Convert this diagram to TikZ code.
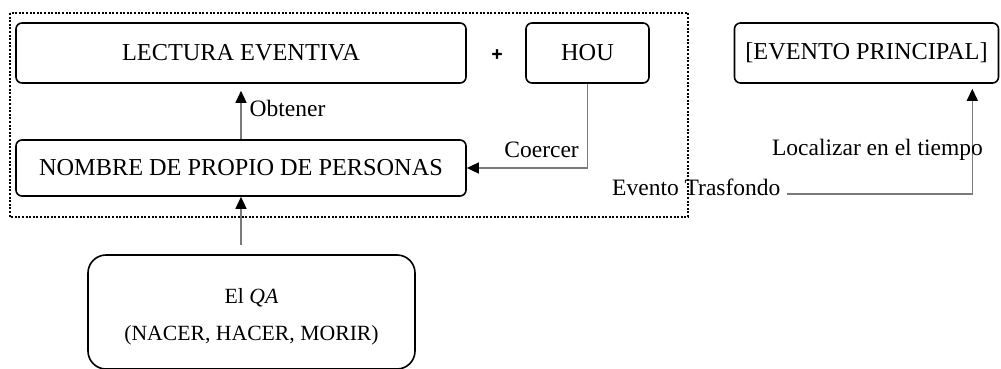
\documentclass[tikz,border=0pt]{standalone}
\usepackage{fontspec}
\setmainfont{Liberation Serif}
\newfontfamily\plusfont[FakeBold=2]{DejaVu Sans}
\usetikzlibrary{arrows.meta,calc}
\definecolor{conncol}{HTML}{7A7A7A}
\tikzset{
  box/.style={draw=black, line width=1.6pt, rounded corners=6pt, inner sep=0pt,
    font=\fontsize{24.3pt}{28pt}\selectfont},
  lbl/.style={inner sep=0pt, font=\fontsize{23.5pt}{28pt}\selectfont},
  conn/.style={draw=conncol, line width=1.3pt,
    -{Triangle[length=12pt,width=11pt,color=black]}},
  frame/.style={draw=black, line width=2.4pt, dash pattern=on 2pt off 1.6pt}
}
\begin{document}
\begin{tikzpicture}[x=1pt,y=-1pt]
\useasboundingbox (0,0) rectangle (1001,369);
% dotted frame
\draw[frame] (10,13) rectangle (688,217);
% boxes
\node[box, minimum width=450pt, minimum height=60pt] (lect) at (241,53) {LECTURA EVENTIVA};
\node[box, minimum width=123pt, minimum height=60pt] (hou) at (587.5,53) {HOU};
\node[box, minimum width=264pt, minimum height=60pt] (evp) at (866.5,53) {[EVENTO PRINCIPAL]};
\node[box, minimum width=450pt, minimum height=56pt] (nom) at (241,168) {NOMBRE DE PROPIO DE PERSONAS};
\node[box, rounded corners=18pt, minimum width=327pt, minimum height=114pt,
  label={[name=qatext, align=center, inner sep=0pt, yshift=-5pt,
    font=\fontsize{21.7pt}{37pt}\selectfont]center:{El \textit{QA}\\(NACER, HACER, MORIR)}}]
  (qa) at (251.5,312) {};
% plus sign
\node[inner sep=0pt, font=\fontsize{15pt}{15pt}\plusfont\bfseries] (plus) at (497,54) {+};
% connectors
\draw[conn, shorten <=9pt] (qa.north -| nom.south) -- (nom.south);
\draw[conn, shorten >=7pt] (nom.north) -- (lect.south)
  node[lbl, pos=0.55, right=8pt] {Obtener};
\draw[conn] (hou.south) |- (nom.east);
\node[lbl, anchor=east] (coer) at (579,150) {Coercer};
\node[lbl, anchor=base west] (et) at (612,195) {Evento Trasfondo};
\coordinate (evpin) at ([xshift=-27pt, yshift=-5pt]evp.south east);
\draw[conn] ([xshift=6pt, yshift=1pt]et.base east) -| (evpin);
\node[lbl] (loc) at (877.5,150) {Localizar en el tiempo};
\end{tikzpicture}
\end{document}
